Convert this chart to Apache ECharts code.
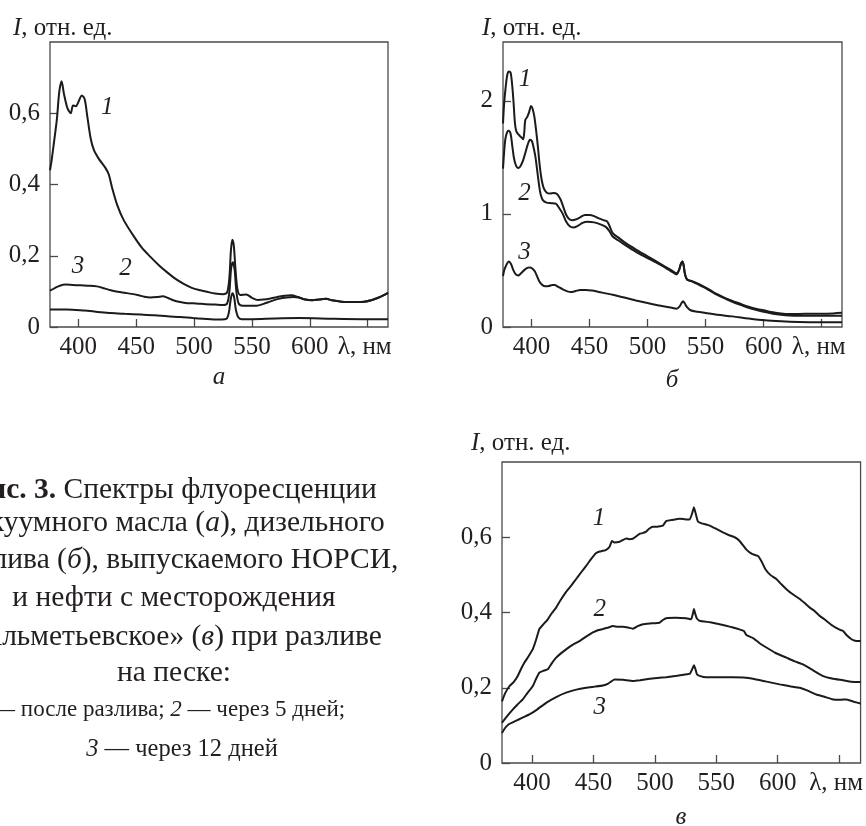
<!DOCTYPE html>
<html>
<head>
<meta charset="utf-8">
<script src="https://cdn.jsdelivr.net/npm/echarts@6/dist/echarts.min.js"></script>
<style>
html,body{margin:0;padding:0;background:#fff;}
#chart{width:866px;height:826px;}
</style>
</head>
<body>
<div id="chart"></div>
<script>
// ---------- data ----------
const xTickValues = [400, 450, 500, 550, 600, 650];
const yTicksSmall = [0, 0.2, 0.4, 0.6];
const yTicksLarge = [0, 1, 2];
const xUnitLabel = 'λ, нм';
const yAxisTitle = 'I';
const yAxisTitleRest = ', отн. ед.';
const panelLetters = ['а', 'б', 'в'];

// Panel а: vacuum oil
const a1 = [[375.5,0.44],[377,0.47],[379,0.52],[381.5,0.585],[383.5,0.66],[385.5,0.69],[387.5,0.655],[390.5,0.615],[393.4,0.60],[395.4,0.622],[397.8,0.62],[400.6,0.636],[402.9,0.65],[405.4,0.64],[407.7,0.592],[410.6,0.53],[413.4,0.497],[417.7,0.472],[423.5,0.446],[426.3,0.428],[429.2,0.39],[433.5,0.343],[439.2,0.30],[447.8,0.255],[455,0.222],[462.5,0.196],[470,0.172],[476.5,0.154],[484,0.135],[491,0.121],[498,0.11],[505.4,0.103],[512,0.098],[518,0.094],[525,0.092],[528.5,0.097],[530.5,0.14],[531.8,0.215],[533,0.245],[534.3,0.228],[535.8,0.16],[537.5,0.105],[540,0.09],[545,0.091],[550,0.082],[555,0.076],[560,0.077],[566,0.08],[572,0.084],[578,0.088],[584,0.089],[590,0.084],[596,0.077],[602,0.075],[608,0.077],[614,0.079],[619,0.075],[625,0.072],[632,0.07],[640,0.07],[647,0.071],[653,0.075],[659,0.082],[663,0.088],[667.5,0.096]];
const a2 = [[375.5,0.102],[380,0.11],[384,0.116],[389,0.119],[395,0.118],[402,0.117],[410,0.116],[416,0.114],[422,0.109],[428,0.103],[434,0.099],[440,0.096],[446,0.093],[452,0.089],[457,0.085],[462,0.083],[468,0.084],[473,0.086],[477,0.082],[482,0.075],[488,0.07],[494,0.067],[502,0.066],[510,0.064],[518,0.063],[525,0.062],[528.5,0.066],[530.5,0.1],[532,0.165],[533.5,0.182],[535,0.16],[536.5,0.1],[538.5,0.066],[542,0.06],[548,0.06],[554,0.06],[560,0.065],[566,0.072],[573,0.079],[580,0.083],[586,0.084],[590,0.083],[596,0.077],[602,0.075],[608,0.077],[614,0.079],[619,0.075],[625,0.072],[632,0.07],[640,0.07],[647,0.071],[653,0.075],[659,0.082],[663,0.088],[667.5,0.096]];
const a3 = [[375.5,0.049],[390,0.049],[405,0.046],[415,0.043],[428,0.039],[440,0.037],[454,0.035],[466,0.033],[477,0.03],[488,0.028],[499,0.025],[508,0.023],[517,0.021],[524,0.021],[528,0.023],[530,0.04],[531.5,0.075],[533,0.095],[534.5,0.085],[536,0.05],[538,0.028],[541,0.022],[550,0.022],[570,0.024],[591,0.025],[620,0.023],[645,0.022],[667.5,0.022]];

// Panel б: diesel fuel
const b1 = [[375.5,1.80],[376.5,1.98],[377.9,2.13],[379.2,2.23],[380.5,2.26],[382,2.25],[383.3,2.15],[384.5,2.0],[385.8,1.8],[387,1.73],[389,1.7],[391,1.68],[392.8,1.66],[393.8,1.72],[394.7,1.83],[396.5,1.86],[398,1.9],[399.7,1.955],[401,1.93],[402.5,1.86],[404,1.74],[405.5,1.6],[407,1.44],[408.5,1.32],[410.5,1.23],[413,1.19],[416,1.18],[419,1.185],[422,1.175],[425,1.13],[427.5,1.06],[430,0.99],[432.5,0.955],[435,0.945],[438,0.95],[442,0.97],[446,0.99],[450,0.99],[454,0.98],[458,0.96],[462,0.945],[465,0.935],[467,0.9],[470,0.83],[475,0.79],[480,0.75],[490,0.685],[500,0.625],[510,0.565],[520,0.505],[525,0.475],[527,0.5],[528.8,0.56],[530,0.58],[531,0.55],[532.2,0.47],[534,0.42],[538,0.405],[542,0.39],[548,0.36],[554,0.325],[560,0.29],[566,0.26],[572,0.235],[580,0.205],[587,0.18],[594,0.16],[601,0.145],[608,0.13],[615,0.12],[622,0.115],[630,0.115],[640,0.117],[650,0.118],[660,0.12],[667.5,0.125]];
const b2 = [[375.5,1.40],[376.5,1.55],[377.5,1.66],[379,1.72],[380.3,1.735],[382,1.71],[383.5,1.6],[385,1.49],[387,1.42],[389,1.405],[391,1.43],[393,1.48],[395,1.55],[397,1.62],[398.8,1.655],[400.5,1.64],[402,1.58],[403.5,1.5],[405,1.38],[406.5,1.26],[408,1.17],[410,1.12],[413,1.1],[417,1.095],[421,1.09],[424,1.05],[427,1.0],[430,0.93],[433,0.89],[436,0.88],[440,0.895],[444,0.92],[448,0.93],[454,0.925],[460,0.905],[464,0.885],[467,0.85],[470,0.8],[475,0.765],[480,0.73],[490,0.665],[500,0.61],[510,0.555],[520,0.495],[525,0.465],[527,0.5],[528.8,0.56],[530,0.58],[531,0.55],[532.2,0.47],[534,0.42],[538,0.405],[542,0.385],[548,0.355],[554,0.32],[560,0.285],[566,0.255],[572,0.228],[580,0.196],[587,0.17],[594,0.15],[601,0.133],[608,0.118],[615,0.108],[622,0.102],[630,0.1],[640,0.1],[650,0.1],[660,0.1],[667.5,0.1]];
const b3 = [[375.5,0.45],[376.5,0.5],[378,0.54],[380.5,0.58],[382.5,0.555],[384.5,0.5],[386.5,0.465],[388.5,0.455],[391,0.475],[394,0.505],[397,0.525],[399,0.527],[401,0.515],[403,0.49],[405,0.445],[407,0.4],[409.5,0.37],[412,0.36],[415,0.362],[418,0.372],[420,0.372],[423,0.355],[427,0.333],[431,0.315],[434,0.309],[438,0.318],[442,0.327],[447,0.327],[452,0.322],[458,0.31],[470,0.285],[480,0.26],[490,0.235],[500,0.212],[510,0.19],[520,0.172],[525,0.162],[527.5,0.18],[529.5,0.215],[530.6,0.227],[532,0.21],[534,0.175],[537,0.148],[543,0.135],[550,0.124],[560,0.108],[573,0.094],[587,0.075],[601,0.059],[615,0.05],[630,0.044],[645,0.042],[667.5,0.041]];

// Panel в: crude oil
const c1 = [[375.5,0.164],[378,0.185],[381.5,0.204],[385,0.215],[388.3,0.231],[391,0.25],[393.8,0.267],[397,0.283],[400.5,0.302],[403,0.325],[405.9,0.356],[409,0.368],[412.8,0.382],[416,0.398],[419.6,0.413],[423,0.432],[427.7,0.455],[432,0.472],[435.9,0.489],[440,0.507],[444,0.524],[448,0.542],[452.2,0.558],[455,0.562],[457.6,0.564],[460,0.566],[463,0.574],[465,0.59],[467,0.586],[471.2,0.588],[474,0.593],[476.6,0.597],[479,0.595],[482,0.596],[485,0.603],[487.5,0.609],[490,0.611],[492.9,0.615],[495,0.622],[498.4,0.628],[502,0.628],[506.5,0.631],[509.2,0.643],[514,0.646],[520.1,0.649],[524,0.648],[528.3,0.647],[530.2,0.662],[531.8,0.68],[533.3,0.662],[535,0.642],[538,0.637],[544.6,0.631],[550,0.622],[555.4,0.613],[560,0.606],[565,0.6],[569,0.59],[574.5,0.567],[579,0.556],[584,0.55],[587,0.535],[590,0.515],[594,0.5],[598.9,0.489],[603,0.475],[607.1,0.462],[612,0.449],[618,0.436],[622,0.425],[626.1,0.413],[630,0.404],[634.2,0.391],[638,0.382],[645.1,0.364],[650,0.355],[653.3,0.351],[656,0.34],[660.1,0.329],[663,0.325],[667.5,0.324]];
const c2 = [[375.5,0.107],[380,0.126],[384.2,0.142],[388,0.155],[392.4,0.169],[396,0.185],[400.5,0.204],[403,0.222],[405.9,0.24],[409,0.245],[412.8,0.249],[416,0.265],[419.6,0.28],[423,0.29],[427.7,0.302],[433,0.314],[438.6,0.324],[444,0.336],[449.5,0.347],[453.5,0.353],[457.6,0.356],[462,0.36],[465.8,0.364],[470,0.362],[474,0.362],[478,0.36],[482,0.357],[486,0.364],[490.2,0.369],[496,0.371],[503.8,0.373],[506.5,0.38],[509.2,0.385],[517,0.386],[525.5,0.385],[529.6,0.382],[530.8,0.395],[531.8,0.409],[533,0.395],[534.2,0.384],[536.4,0.378],[545,0.374],[552.7,0.369],[558,0.365],[563.6,0.36],[568,0.356],[572.5,0.351],[574.5,0.34],[580,0.332],[585,0.319],[590.8,0.307],[598,0.293],[607.1,0.28],[614,0.27],[620.7,0.262],[628,0.248],[637,0.231],[645,0.224],[653.3,0.22],[660,0.216],[667.5,0.215]];
const c3 = [[375.5,0.08],[378,0.093],[381,0.103],[384.2,0.108],[390,0.117],[397.8,0.129],[404,0.142],[411.4,0.16],[420,0.176],[427.7,0.187],[436,0.195],[444,0.2],[451,0.203],[457.6,0.206],[462,0.211],[465,0.218],[467.1,0.222],[474,0.221],[482,0.218],[488,0.22],[495.7,0.224],[502,0.226],[509.2,0.228],[518,0.232],[526,0.236],[528.5,0.237],[530.5,0.25],[531.8,0.26],[533,0.25],[534.2,0.236],[537,0.231],[541.8,0.228],[552,0.228],[563.6,0.228],[572,0.227],[579.9,0.224],[590,0.217],[601.6,0.209],[610,0.204],[618,0.2],[624,0.193],[631.5,0.182],[638,0.176],[645.1,0.169],[651,0.168],[656,0.169],[662,0.163],[667.5,0.158]];

// curve number annotations [x, y, text]
const labelsA = [[425,0.615,'1'],[440.7,0.165,'2'],[399.7,0.17,'3']];
const labelsB = [[394.5,2.19,'1'],[394,1.18,'2'],[394,0.66,'3']];
const labelsC = [[454.5,0.649,'1'],[455,0.407,'2'],[455,0.149,'3']];

// caption
const captionLines = [
  '{b|Рис. 3.} Спектры флуоресценции',
  'вакуумного масла ({i|а}), дизельного',
  'топлива ({i|б}), выпускаемого НОРСИ,',
  'и нефти с месторождения',
  '«Альметьевское» ({i|в}) при разливе',
  'на песке:'
];
const legendLines = [
  '{i|1} — после разлива; {i|2} — через 5 дней;',
  '{i|3} — через 12 дней'
];

// ---------- chart ----------
const FONT = '"Liberation Serif", "DejaVu Serif", serif';
const INK = '#231f20';
const AXC = '#4a4a4a';
const TICKFS = 25;
const chart = echarts.init(document.getElementById('chart'), null, {renderer: 'canvas'});

const grids = [
  {left: 50, top: 42, width: 338, height: 285},
  {left: 503, top: 42, width: 339, height: 285},
  {left: 502, top: 462, width: 359, height: 301}
].map(g => Object.assign(g, {show: true, borderColor: AXC, borderWidth: 1.3, backgroundColor: 'transparent', containLabel: false}));

function xAxisFor(i) {
  return {
    type: 'value', gridIndex: i, min: 375.5, max: 667.5,
    axisLine: {show: false}, splitLine: {show: false},
    axisTick: {show: true, inside: true, length: 8, customValues: xTickValues, lineStyle: {color: AXC, width: 1.3}},
    axisLabel: {
      show: true, customValues: xTickValues, margin: 8,
      fontFamily: FONT, fontSize: TICKFS, color: INK,
      formatter: v => v === 650 ? '{u|' + xUnitLabel + '}' : String(v),
      rich: {u: {fontFamily: FONT, fontSize: TICKFS, color: INK, padding: [0, 6, 0, 0]}}
    }
  };
}
function yAxisFor(i, max, ticks) {
  return {
    type: 'value', gridIndex: i, min: 0, max: max,
    axisLine: {show: false}, splitLine: {show: false},
    axisTick: {show: true, inside: true, length: 8, customValues: ticks, lineStyle: {color: AXC, width: 1.3}},
    axisLabel: {
      show: true, customValues: ticks, margin: 10,
      fontFamily: FONT, fontSize: TICKFS, color: INK,
      formatter: v => String(Math.round(v * 10) / 10).replace('.', ',')
    }
  };
}

function lineSeries(data, i, smooth) {
  return {
    type: 'line', xAxisIndex: i, yAxisIndex: i, data: data,
    symbol: 'none', smooth: smooth, clip: true,
    lineStyle: {color: '#1b1b1b', width: 2}, silent: true
  };
}
function labelSeries(data, i) {
  return {
    type: 'scatter', xAxisIndex: i, yAxisIndex: i, data: data,
    symbolSize: 1, itemStyle: {color: 'rgba(0,0,0,0)', opacity: 1}, silent: true,
    label: {
      show: true, position: 'inside', formatter: p => p.data[2], opacity: 1,
      fontFamily: FONT, fontStyle: 'italic', fontSize: 25, color: INK
    }
  };
}

const graphic = [];
// axis titles
[[13, 28], [482, 28], [471, 443]].forEach(p => {
  graphic.push({
    type: 'text', x: p[0], y: p[1],
    style: {
      text: '{i|' + yAxisTitle + '}' + yAxisTitleRest,
      textAlign: 'left', textVerticalAlign: 'middle',
      fontFamily: FONT, fontSize: TICKFS, fill: INK,
      rich: {i: {fontFamily: FONT, fontSize: TICKFS, fontStyle: 'italic', fill: INK}}
    }
  });
});
// panel letters
[[219, 377], [672, 380], [681, 817]].forEach((p, k) => {
  graphic.push({
    type: 'text', x: p[0], y: p[1],
    style: {text: panelLetters[k], textAlign: 'center', textVerticalAlign: 'middle',
      fontFamily: FONT, fontSize: 25, fontStyle: 'italic', fill: INK}
  });
});
// caption
const capY = [490, 523, 560, 598, 637, 673];
captionLines.forEach((t, k) => {
  graphic.push({
    type: 'text', x: 174, y: capY[k],
    style: {
      text: t, textAlign: 'center', textVerticalAlign: 'middle',
      fontFamily: FONT, fontSize: 29.5, fill: INK,
      rich: {
        b: {fontFamily: FONT, fontSize: 29.5, fontWeight: 'bold', fill: INK},
        i: {fontFamily: FONT, fontSize: 29.5, fontStyle: 'italic', fill: INK}
      }
    }
  });
});
const legY = [710, 750];
const legX = [160, 182];
const legFS = [23, 24.5];
legendLines.forEach((t, k) => {
  graphic.push({
    type: 'text', x: legX[k], y: legY[k],
    style: {
      text: t, textAlign: 'center', textVerticalAlign: 'middle',
      fontFamily: FONT, fontSize: legFS[k], fill: INK,
      rich: {i: {fontFamily: FONT, fontSize: legFS[k], fontStyle: 'italic', fill: INK}}
    }
  });
});

chart.setOption({
  animation: false,
  backgroundColor: '#fff',
  grid: grids,
  xAxis: [xAxisFor(0), xAxisFor(1), xAxisFor(2)],
  yAxis: [yAxisFor(0, 0.8, yTicksSmall), yAxisFor(1, 2.52, yTicksLarge), yAxisFor(2, 0.8, yTicksSmall)],
  series: [
    lineSeries(a1, 0, 0.3), lineSeries(a2, 0, 0.3), lineSeries(a3, 0, 0.3),
    lineSeries(b1, 1, 0.3), lineSeries(b2, 1, 0.3), lineSeries(b3, 1, 0.3),
    lineSeries(c1, 2, 0.1), lineSeries(c2, 2, 0.1), lineSeries(c3, 2, 0.1),
    labelSeries(labelsA, 0), labelSeries(labelsB, 1), labelSeries(labelsC, 2)
  ],
  graphic: graphic
});
</script>
</body>
</html>
